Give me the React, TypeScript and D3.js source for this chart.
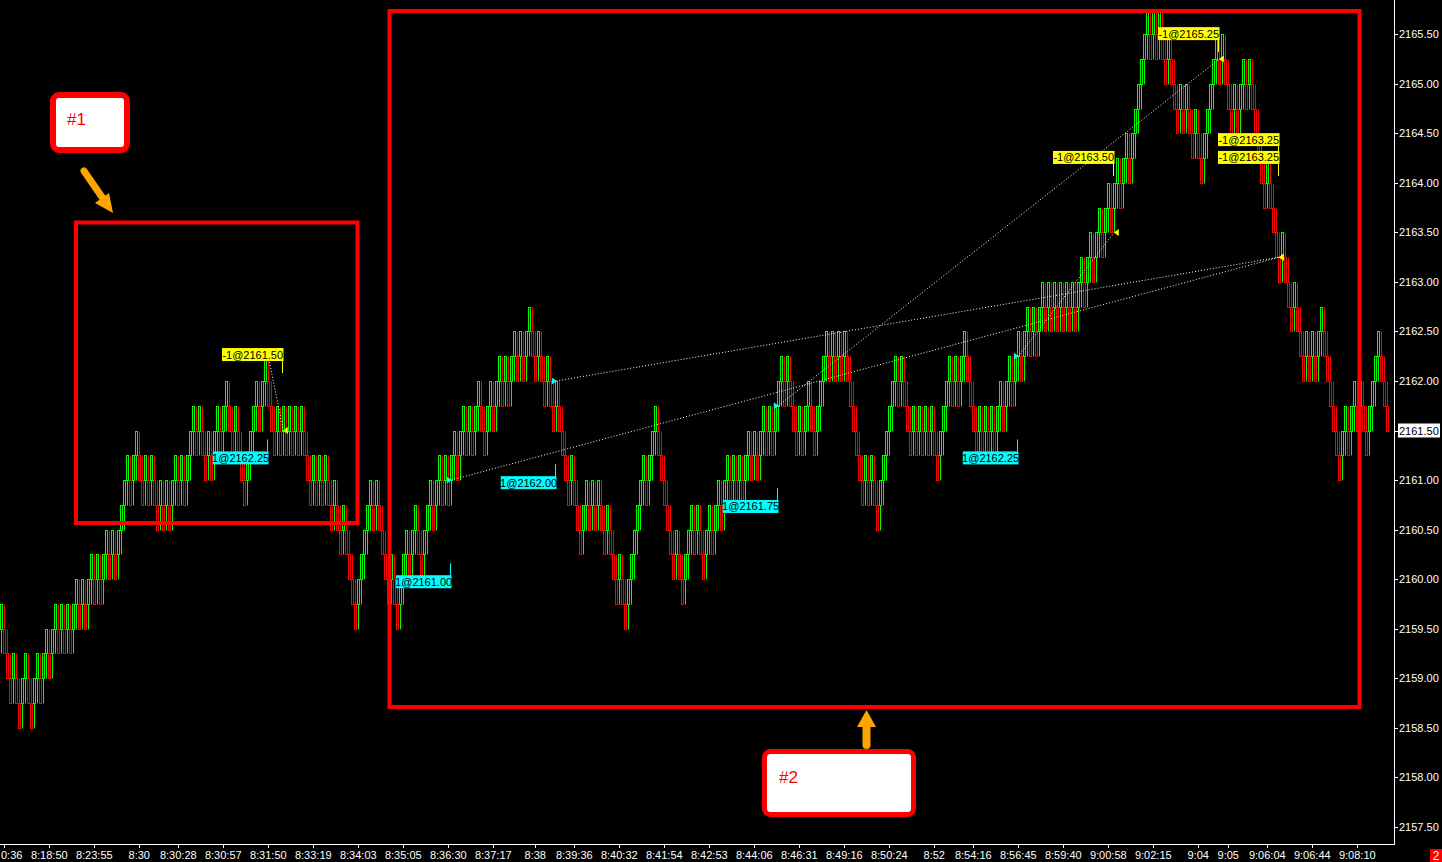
import React from 'react';
import * as d3 from 'd3';

const W = 1442;
const H = 862;
const BASE = 2157.5;
const STEP = 0.25;

// close level of each 2-tick range bar, in 0.25-point ticks above 2157.50 (one bar every 3 px)
const barTick = [
  8,7,6,5,6,5,4,5,6,5,4,5,6,5,6,7,6,7,8,7,8,7,
  8,7,8,9,8,9,8,9,10,9,10,9,10,11,10,11,10,11,
  12,13,14,13,14,15,14,13,14,13,14,13,12,13,12,13,12,13,14,13,14,13,14,
  15,16,15,16,15,14,15,14,15,16,15,16,17,16,15,16,15,14,13,14,15,16,17,16,17,18,
  17,16,15,16,15,16,15,16,15,16,15,16,15,14,13,14,13,14,13,14,13,12,13,12,11,12,11,
  10,9,8,9,10,11,12,13,12,13,12,11,10,9,10,9,8,9,10,11,10,11,12,11,10,11,12,13,12,13,
  14,13,14,13,14,15,14,15,16,15,16,15,16,17,16,15,16,17,16,17,18,17,18,17,18,19,18,19,18,19,20,19,18,19,18,17,18,17,16,17,
  16,15,14,13,14,13,12,11,12,13,12,13,12,13,12,11,12,11,10,9,10,9,8,9,10,11,12,13,
  14,13,14,15,16,15,14,13,12,11,10,11,10,9,10,11,12,11,12,11,10,11,12,11,12,13,12,13,14,13,14,13,14,13,14,15,14,15,14,15,16,15,16,15,16,17,
  18,17,18,17,16,15,16,15,16,17,16,15,16,17,18,19,18,19,18,19,18,19,18,17,16,15,14,13,14,13,14,13,12,13,14,15,16,17,18,17,18,
  17,16,15,16,15,16,15,16,15,16,15,14,15,16,17,18,17,18,17,18,19,18,17,16,15,16,15,16,15,16,15,16,17,16,17,18,17,18,19,
  18,19,20,19,20,19,20,21,20,21,20,21,20,21,20,21,20,21,20,21,22,21,22,23,22,23,24,23,24,25,24,25,26,25,26,27,26,27,28,29,30,31,32,
  31,32,31,32,31,30,31,30,29,28,29,28,29,28,27,28,27,26,27,28,29,30,31,30,31,30,29,28,29,28,29,30,29,30,29,28,27,26,25,26,25,24,23,22,
  23,22,21,20,21,20,19,18,19,18,19,18,19,20,19,18,17,16,15,14,15,16,15,16,17,16,17,16,15,16,17,18,19,18,17,16,
];

const priceTicks = [2157.5, 2158, 2158.5, 2159, 2159.5, 2160, 2160.5, 2161, 2161.5, 2162, 2162.5, 2163, 2163.5, 2164, 2164.5, 2165, 2165.5];

// time axis: bar index of each label
const timeTickBar = [1, 16, 31, 46, 59, 74, 89, 104, 119, 134, 149, 164, 178, 191, 206, 221, 236, 251, 266, 281, 296, 311, 324, 339, 354, 369, 384, 399, 409, 422, 437, 452];
const timeTickLabels = ['0:36', '8:18:50', '8:23:55', '8:30', '8:30:28', '8:30:57', '8:31:50', '8:33:19', '8:34:03', '8:35:05', '8:36:30', '8:37:17', '8:38', '8:39:36', '8:40:32', '8:41:54', '8:42:53', '8:44:06', '8:46:31', '8:49:16', '8:50:24', '8:52', '8:54:16', '8:56:45', '8:59:40', '9:00:58', '9:02:15', '9:04', '9:05', '9:06:04', '9:06:44', '9:08:10'];

// executions
const tradeLabel = ['1@2162.25', '-1@2161.50', '1@2161.00', '1@2162.00', '1@2161.75', '1@2162.25', '-1@2163.50', '-1@2165.25', '-1@2163.25', '-1@2163.25'];
const tradeSide = [1, -1, 1, 1, 1, 1, -1, -1, -1, -1];
const tradeBar = [89, 94, 150, 185, 259, 339, 371, 406, 426, 426];
const tradePrice = [2162.25, 2161.5, 2161.0, 2162.0, 2161.75, 2162.25, 2163.5, 2165.25, 2163.25, 2163.25];
const tradeLabelAnchor = [2161.41, 2162.08, 2160.16, 2161.16, 2160.92, 2161.41, 2164.07, 2165.32, 2164.25, 2164.07];
// entry index -> exit index
const tradePairs = [[0, 1], [2, 8], [3, 9], [4, 7], [5, 6]];

const lastPrice = 2161.5;

const GREEN = '#00ff00';
const RED = '#ff0000';
const FONT = '"Liberation Sans", Arial, sans-serif';

export default function App() {
  const x = d3.scaleLinear().domain([0, 1]).range([1.3, 4.3]);
  const y = d3.scaleLinear().domain([2157.5, 2165.5]).range([826.7, 34.3]);
  const snap = (v: number) => Math.round(v);

  const bars = barTick.map((t, i) => {
    const up = i === 0 ? true : t > barTick[i - 1];
    const lo = BASE + t * STEP;
    const px = snap(x(i));
    const yTop = snap(y(lo + STEP)) + 0.5;
    const yBot = snap(y(lo)) + 0.5;
    const color = up ? GREEN : RED;
    const wickA = up ? yBot : snap(y(lo + 2 * STEP)) + 0.5;
    const wickB = up ? snap(y(lo - STEP)) + 0.5 : yTop;
    return (
      <g key={i}>
        <line x1={px + 0.5} x2={px + 0.5} y1={wickA} y2={wickB} stroke={color} strokeWidth={1} />
        <rect x={px - 0.5} y={yTop} width={2} height={yBot - yTop} fill="#000" stroke={color} strokeWidth={1} />
      </g>
    );
  });

  const tradeX = tradeBar.map((b) => x(b));

  return (
    <div style={{ position: 'fixed', left: 0, top: 0, width: W, height: H, background: '#000' }}>
      <svg width={W} height={H} style={{ display: 'block', background: '#000' }}>
        {bars}

        {/* trade connection lines */}
        {tradePairs.map(([a, b], k) => (
          <line key={k} x1={tradeX[a]} y1={y(tradePrice[a])} x2={tradeX[b]} y2={y(tradePrice[b])}
            stroke="#ffffff" strokeWidth={1} strokeDasharray="1,2" />
        ))}

        {/* markers */}
        {tradeLabel.map((lab, k) => {
          const tx = tradeX[k];
          const ty = y(tradePrice[k]);
          const pts = tradeSide[k] > 0
            ? `${tx - 4.5},${ty - 3.5} ${tx - 4.5},${ty + 3.5} ${tx + 0.5},${ty}`
            : `${tx + 4.5},${ty - 3.5} ${tx + 4.5},${ty + 3.5} ${tx - 0.5},${ty}`;
          return <polygon key={'m' + k} points={pts} fill={tradeSide[k] > 0 ? '#00ffff' : '#ffff00'} />;
        })}

        {/* execution labels */}
        {tradeLabel.map((lab, k) => {
          const tx = Math.round(tradeX[k]) - 1;
          const ay = y(tradeLabelAnchor[k]);
          const col = tradeSide[k] > 0 ? '#00ffff' : '#ffff00';
          const bw = lab.length * 5.75 + 4;
          const right = tx + 1.5;
          const boxY = tradeSide[k] > 0 ? ay + 12 : ay - 12 - 13;
          return (
            <g key={'l' + k}>
              <line x1={tx + 0.5} x2={tx + 0.5} y1={ay} y2={tradeSide[k] > 0 ? ay + 12 : ay - 12} stroke={col} strokeWidth={1} />
              <rect x={right - bw} y={boxY} width={bw} height={13} fill={col} />
              <text x={right - bw / 2} y={boxY + 10.5} textAnchor="middle" fontFamily={FONT} fontSize={11} fill="#000">{lab}</text>
            </g>
          );
        })}

        {/* highlight rectangles */}
        <rect x={76} y={222.5} width={281.5} height={300.5} fill="none" stroke={RED} strokeWidth={4} />
        <rect x={389.5} y={11} width={970} height={696} fill="none" stroke={RED} strokeWidth={4} />

        {/* callouts */}
        <rect x={53} y={95} width={74} height={55} rx={6} fill="#fff" stroke={RED} strokeWidth={6} />
        <text x={67} y={125} fontFamily={FONT} fontSize={17} fill={RED}>#1</text>
        <rect x={764.5} y={751.5} width={149} height={63} rx={6} fill="#fff" stroke={RED} strokeWidth={5} />
        <text x={779} y={783} fontFamily={FONT} fontSize={17} fill={RED}>#2</text>

        {/* arrows */}
        <line x1={84} y1={171} x2={104} y2={200} stroke="#ffa500" strokeWidth={7} strokeLinecap="round" />
        <polygon points="113,213 95,203 109,193" fill="#ffa500" />
        <line x1={866.5} y1={745} x2={866.5} y2={724} stroke="#ffa500" strokeWidth={8} strokeLinecap="round" />
        <polygon points="866.5,710 857,727 876,727" fill="#ffa500" />

        {/* price axis */}
        <line x1={1394.5} x2={1394.5} y1={0} y2={845} stroke="#fff" strokeWidth={1} />
        {priceTicks.map((p) => (
          <g key={p}>
            <line x1={1395} x2={1398} y1={snap(y(p)) + 0.5} y2={snap(y(p)) + 0.5} stroke="#fff" />
            <text x={1399} y={y(p) + 4} fontFamily={FONT} fontSize={11} fill="#fff">{p.toFixed(2)}</text>
          </g>
        ))}
        <rect x={1398} y={y(lastPrice) - 7} width={42} height={14} fill="#fff" />
        <text x={1399} y={y(lastPrice) + 4} fontFamily={FONT} fontSize={11} fill="#000">{lastPrice.toFixed(2)}</text>

        {/* time axis */}
        <line x1={0} x2={1395} y1={844.5} y2={844.5} stroke="#fff" strokeWidth={1} />
        {timeTickBar.map((b, k) => (
          <g key={'t' + k}>
            <line x1={snap(x(b)) + 0.5} x2={snap(x(b)) + 0.5} y1={845} y2={848} stroke="#fff" />
            <text x={k === 0 ? 1 : x(b)} y={859} textAnchor={k === 0 ? 'start' : 'middle'} fontFamily={FONT} fontSize={11} fill="#fff">{timeTickLabels[k]}</text>
          </g>
        ))}
        <rect x={1430} y={849} width={12} height={13} fill={RED} />
        <text x={1436} y={860} textAnchor="middle" fontFamily={FONT} fontSize={12} fill="#fff">2</text>
      </svg>
    </div>
  );
}
